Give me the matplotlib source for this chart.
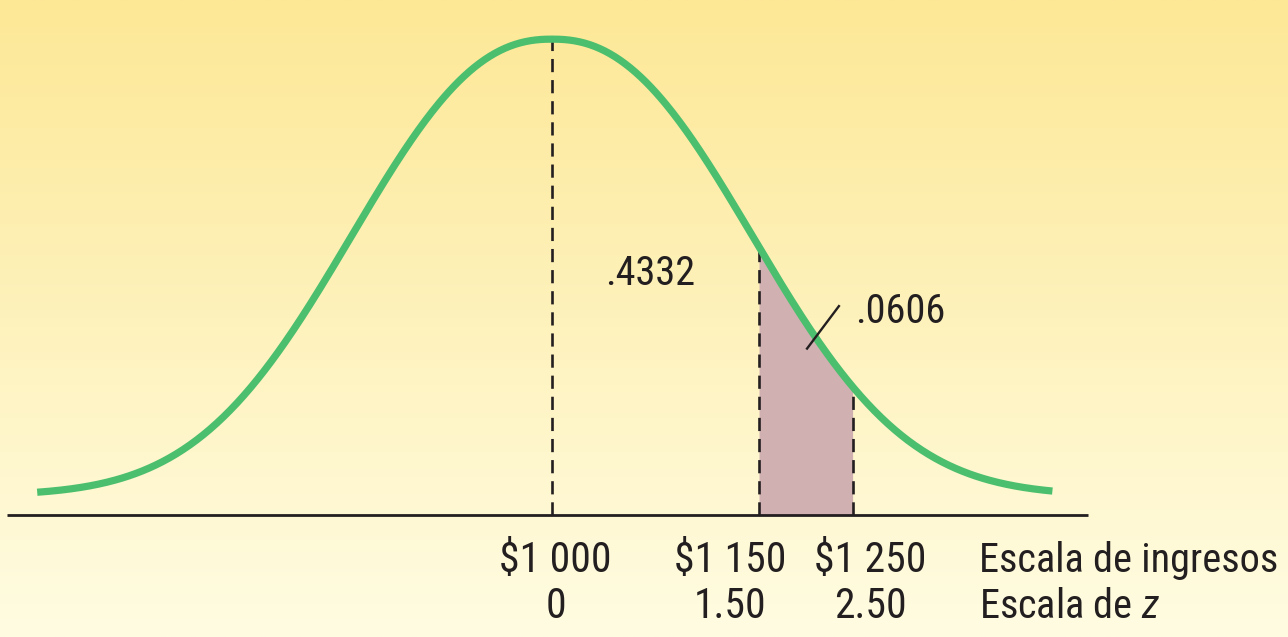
import matplotlib.pyplot as plt
import numpy as np
from matplotlib import font_manager

# labels of the three marked points on the curve
Z_VALUES = [0.0, 1.50, 2.50]
INCOME_LABELS = ["$1 000", "$1 150", "$1 250"]
Z_LABELS = ["0", "1.50", "2.50"]
AREA_MIDDLE = ".4332"
AREA_TAIL = ".0606"
ROW_NAMES = ["Escala de ingresos", "Escala de $z$"]

# schematic placement (the drawing is not to scale)
CURVE_RANGE = (-2.86, 2.78)
CURVE_WIDTH = 1.428
CURVE_POWER = 2.3
MARK_POS = [0.0, 1.15, 1.67]
LABEL_POS = [0.02, 0.99, 1.77]

GREEN = "#4cbf6e"
SHADE = "#d1b0b1"
INK = "#231f20"

names = {f.name for f in font_manager.fontManager.ttflist}
preferred = ["Liberation Sans Narrow", "Roboto Condensed", "Noto Sans Condensed",
             "Open Sans Condensed", "DejaVu Sans Condensed"]
narrow = next((n for n in preferred if n in names), None)
if narrow is None:
    extra = sorted(n for n in names if ("Condensed" in n or "Narrow" in n)
                   and not any(w in n for w in ("Bold", "Light", "Thin", "Black", "Medium",
                                                "Semi", "Extra", "Mono", "Serif")))
    narrow = extra[0] if extra else "Liberation Sans"

plt.rcParams.update({
    "font.family": [narrow, "DejaVu Sans"],
    "mathtext.fontset": "custom",
    "mathtext.rm": narrow,
    "mathtext.it": f"{narrow}:italic",
})

fig = plt.figure(figsize=(12.88, 6.37), dpi=100)
ax = fig.add_axes([0, 0, 1, 1])
ax.set_xlim(-552 / 180, (1288 - 552) / 180)
ax.set_ylim(-(637 - 495) / 458, 495 / 458 + 0.005)
ax.axis("off")

# background gradient, deeper yellow at the top
grad = np.linspace(0, 1, 256)[:, None, None]
top = np.array([253, 232, 150]) / 255
bottom = np.array([255, 252, 226]) / 255
img = top * (1 - grad) + bottom * grad
x0, x1 = ax.get_xlim()
y0, y1 = ax.get_ylim()
ax.imshow(img, extent=(x0, x1, y0, y1), aspect="auto", origin="upper", zorder=0)


def density(x):
    # bell shape as drawn in the schematic
    return np.exp(-(np.abs(np.asarray(x)) / CURVE_WIDTH) ** CURVE_POWER)


base_y = -20 / 458
ax.plot([-545 / 180, 536 / 180], [base_y, base_y], color=INK, lw=2.0, zorder=3,
        solid_capstyle="butt")

# shaded tail area between the two marks
xs = np.linspace(MARK_POS[1], MARK_POS[2], 200)
ax.fill_between(xs, base_y, density(xs), color=SHADE, lw=0, zorder=1)

for pos in MARK_POS:
    ax.plot([pos, pos], [base_y, density(pos)], color=INK, lw=1.9,
            dashes=(5.0, 3.0), zorder=2)

x = np.linspace(*CURVE_RANGE, 600)
ax.plot(x, density(x), color=GREEN, lw=5.2, zorder=4, solid_capstyle="butt")

# area labels
ax.text(0.294, (495 - 272) / 458, AREA_MIDDLE, fontsize=29, color=INK,
        ha="left", va="center", zorder=5)
ax.text(1.683, (495 - 310) / 458, AREA_TAIL, fontsize=29, color=INK,
        ha="left", va="center", zorder=5)
ax.plot([1.417, 1.594], [0.322, 0.415], color=INK, lw=1.7, zorder=5)

row1 = (495 - 560) / 458
row2 = (495 - 606) / 458
for pos, inc, z in zip(LABEL_POS, INCOME_LABELS, Z_LABELS):
    ax.text(pos, row1, inc, fontsize=30, color=INK, ha="center", va="center")
    ax.text(pos, row2, z, fontsize=30, color=INK, ha="center", va="center")
ax.text(2.372, row1, ROW_NAMES[0], fontsize=29, color=INK, ha="left", va="center")
ax.text(2.372, row2, ROW_NAMES[1], fontsize=29, color=INK, ha="left", va="center")

fig.savefig("out.png", dpi=100)
